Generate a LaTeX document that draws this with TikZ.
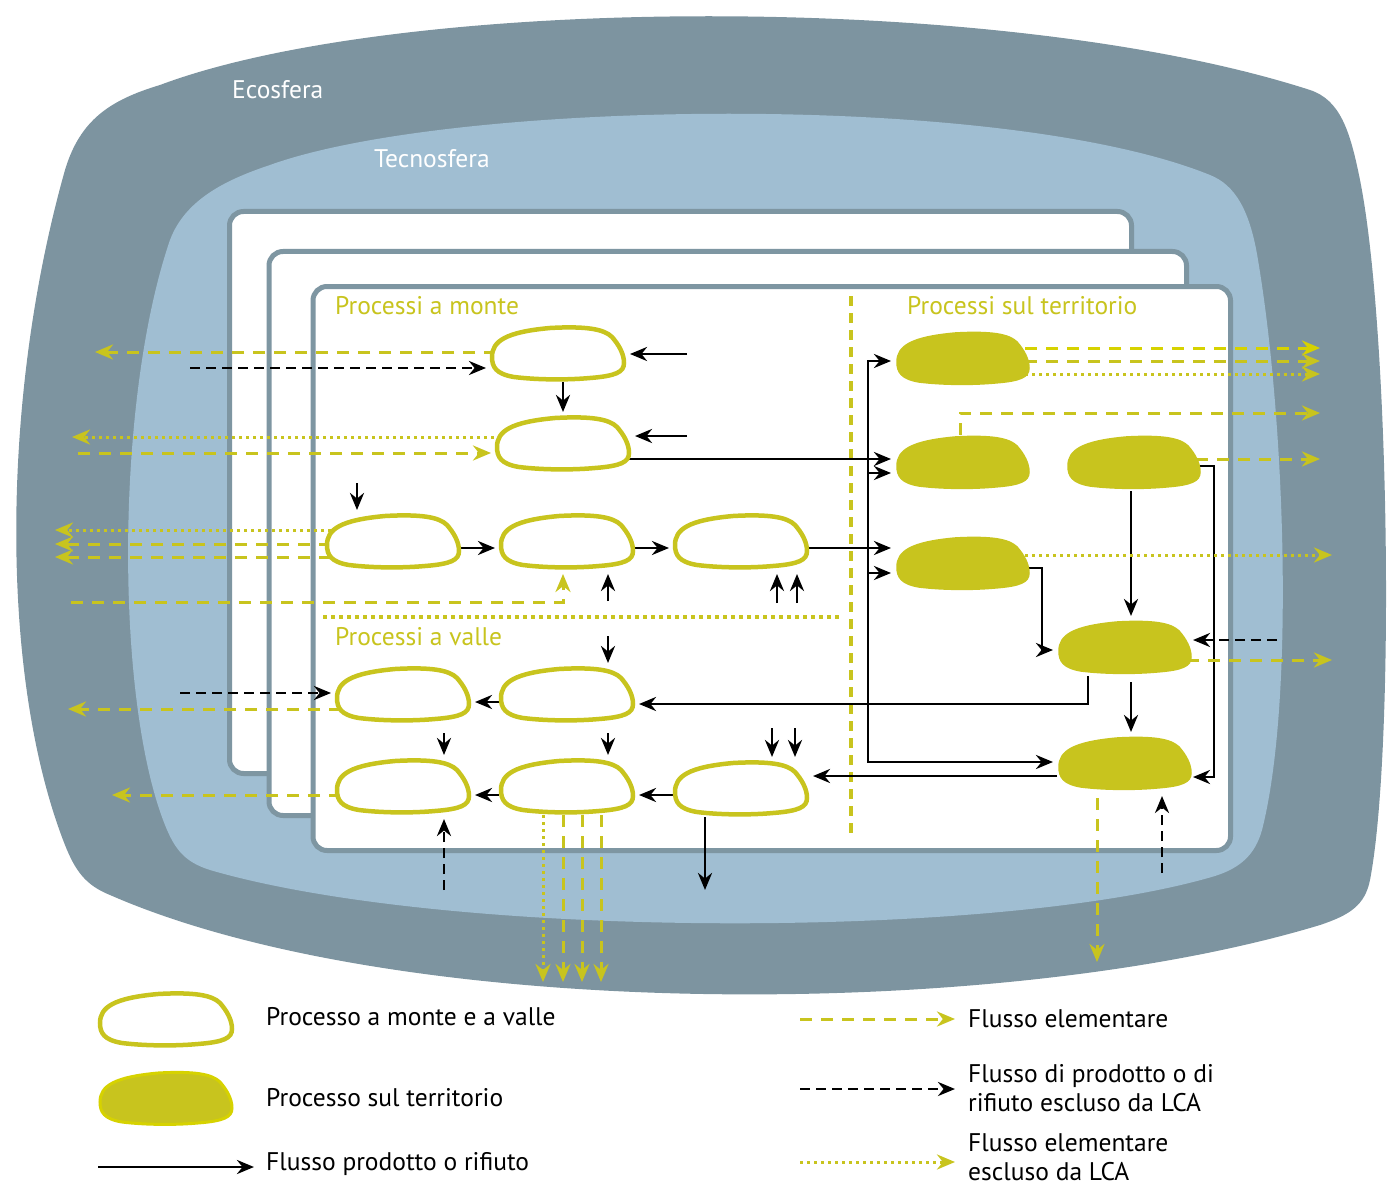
\documentclass[tikz,border=0pt]{standalone}
\usepackage{fontspec}
\setmainfont{PT Sans}
\usetikzlibrary{arrows.meta}

\definecolor{eco}{RGB}{125,148,160}
\definecolor{tecno}{RGB}{160,190,210}
\definecolor{framecol}{RGB}{126,150,162}
\definecolor{olive}{RGB}{200,196,30}
\definecolor{olivebright}{RGB}{214,210,0}

% outline of a process blob, centred on the origin (y grows downwards)
\newcommand\blobpath{(-66,3) .. controls (-66,-13) and (-52,-22) .. (-8,-26)
  .. controls (28,-28) and (46,-25) .. (54,-17)
  .. controls (61,-9) and (66,0) .. (66,9)
  .. controls (66,18) and (58,22) .. (32,24)
  .. controls (10,26) and (-20,26) .. (-44,23)
  .. controls (-62,20) and (-66,13) .. (-66,3) -- cycle}

\tikzset{
  proc/.style={minimum width=136pt,minimum height=56pt,inner sep=0pt,outer sep=0pt},
  openblob/.style={draw=olive,line width=4.5pt,fill=white},
  fullblob/.style={fill=olive,draw=olive,line width=1.5pt},
  prod/.style={draw=black,line width=2.8pt,-{Stealth[length=17pt,width=14pt]}},
  tipgap/.style={shorten >=4pt},
  fromshape/.style={shorten <=-6pt},
  excl/.style={prod,dash pattern=on 10pt off 6pt},
  elem/.style={draw=olive,line width=3pt,dash pattern=on 12pt off 9pt,-{Stealth[length=18pt,width=15pt]}},
  elemx/.style={elem,dash pattern=on 3pt off 4pt},
  framebox/.style={draw=framecol,fill=white,line width=5pt,rounded corners=14pt},
  lbl/.style={anchor=base west,inner sep=0pt,font=\fontsize{25.5}{29}\selectfont},
}

\begin{document}
\begin{tikzpicture}[x=1pt,y=-1pt]
\useasboundingbox (0,0) rectangle (1387,1185);

% ecosphere
\fill[eco] (160,85) .. controls (400,-5) and (1000,-10) .. (1310,90)
  .. controls (1340,100) and (1350,130) .. (1360,180)
  .. controls (1390,330) and (1395,750) .. (1370,880)
  .. controls (1365,905) and (1350,915) .. (1320,925)
  .. controls (1000,1022) and (400,1022) .. (110,895)
  .. controls (85,885) and (75,870) .. (65,845)
  .. controls (0,680) and (0,400) .. (65,170)
  .. controls (80,120) and (110,100) .. (160,85) -- cycle;
% technosphere
\fill[tecno] (270,165) .. controls (450,100) and (1000,90) .. (1210,175)
  .. controls (1235,185) and (1250,210) .. (1258,260)
  .. controls (1285,420) and (1295,700) .. (1262,830)
  .. controls (1255,855) and (1240,868) .. (1215,876)
  .. controls (1000,940) and (450,940) .. (210,870)
  .. controls (185,862) and (175,850) .. (165,825)
  .. controls (115,700) and (115,400) .. (170,240)
  .. controls (185,200) and (225,180) .. (270,165) -- cycle;

\node[lbl,text=white] (eco) at (232,99) {Ecosfera};
\node[lbl,text=white] (tec) at (374,168) {Tecnosfera};

% stacked system boxes
\draw[framebox] (229.5,211.5) rectangle (1131.5,773.5);
\draw[framebox] (269,251.5) rectangle (1186.5,815.5);
\draw[framebox] (313,286.5) rectangle (1230.5,850.5);

\node[lbl,text=olive] (hmonte) at (335,314) {Processi a monte};
\node[lbl,text=olive] (hterr) at (907,314) {Processi sul territorio};
\node[lbl,text=olive] (hvalle) at (335,645) {Processi a valle};

% separators
\coordinate (dv1) at (851,296); \coordinate (dv2) at (851,836);
\draw[olive,line width=3.5pt,dash pattern=on 10pt off 7pt] (dv1) -- (dv2);
\coordinate (dh1) at (323,617); \coordinate (dh2) at (843,617);
\draw[olive,line width=3.5pt,dash pattern=on 3.5pt off 4.5pt] (dh1) -- (dh2);

% process placeholders
\node[proc] (U1) at (558,354) {};
\node[proc] (U2) at (563,444) {};
\node[proc] (U3) at (393,542) {};
\node[proc] (U4) at (567,542) {};
\node[proc] (U5) at (741,542) {};
\node[proc] (D1) at (403,695) {};
\node[proc] (D2) at (567,695) {};
\node[proc] (D3) at (403,787) {};
\node[proc] (D4) at (567,787) {};
\node[proc] (D5) at (741,789) {};
\node[proc] (T1) at (963,359) {};
\node[proc] (T2) at (963,463) {};
\node[proc] (T3) at (1134,463) {};
\node[proc] (T4) at (963,564) {};
\node[proc] (T5) at (1125,648) {};
\node[proc] (T6) at (1125,764) {};

% free ends
\coordinate (fa1) at (687,354);
\coordinate (fa3) at (687,436);
\coordinate (fa9) at (357,483);
\coordinate (fa10) at (608,601);
\coordinate (fa11a) at (777,603);
\coordinate (fa11b) at (797,603);
\coordinate (fa12) at (608,636);
\coordinate (fa20a) at (772,728);
\coordinate (fa20b) at (795,728);
\coordinate (fa21) at (705,890);
\coordinate (fb1) at (190,368);
\coordinate (fb2) at (180,693);
\coordinate (fb3) at (1277,640);
\coordinate (fb4) at (444,890);
\coordinate (fb5) at (1162,873);
\coordinate (fy1) at (95,352);
\coordinate (fy2) at (78,453);
\coordinate (fy3) at (72,437);
\coordinate (fy4a) at (55,530);
\coordinate (fy4b) at (55,544);
\coordinate (fy4c) at (55,557);
\coordinate (fy5) at (71,602);
\coordinate (fy6) at (68,709);
\coordinate (fy7) at (112,795);
\coordinate (fy8a) at (543,982);
\coordinate (fy8b) at (563,982);
\coordinate (fy8c) at (582,982);
\coordinate (fy8d) at (601,982);
\coordinate (fy9a) at (1320,348);
\coordinate (fy9b) at (1320,361);
\coordinate (fy9c) at (1320,374);
\coordinate (fy10) at (1320,413);
\coordinate (fy11) at (1320,459);
\coordinate (fy12) at (1332,555);
\coordinate (fy13) at (1332,660);
\coordinate (fy14) at (1097,962);
\coordinate (j) at (868,548);

% product / waste flows
\draw[prod,tipgap] (fa1) -- (fa1 -| U1.east);
\draw[prod,tipgap] (U2.north |- U1.south) -- (U2.north);
\draw[prod,tipgap] (fa3) -- (fa3 -| U2.east);
\draw[prod,tipgap,fromshape] ([yshift=-15pt]U2.east) -- ([yshift=-15pt]U2.east -| T2.west);
\draw[prod,tipgap] (fa9) -- (fa9 |- U3.north);
\draw[prod,tipgap] ([yshift=-6pt]U3.east) -- ([yshift=-6pt]U3.east -| U4.west);
\draw[prod,tipgap] ([yshift=-6pt]U4.east) -- ([yshift=-6pt]U4.east -| U5.west);
\draw[prod,tipgap] ([yshift=-6pt]U5.east) -- ([yshift=-6pt]U5.east -| T4.west);
\draw[prod,tipgap] (fa10) -- (fa10 |- U4.south);
\draw[prod,tipgap] (fa11a) -- (fa11a |- U5.south);
\draw[prod,tipgap] (fa11b) -- (fa11b |- U5.south);
\draw[prod,tipgap] (j) |- ([yshift=-2pt]T1.west);
\draw[prod,tipgap] (j) |- ([yshift=-10pt]T2.west);
\draw[prod,tipgap] (j) |- ([yshift=-9pt]T4.west);
\draw[prod,tipgap] (j) |- ([yshift=2pt]T6.west);
\draw[prod,tipgap] (fa12) -- (fa12 |- D2.north);
\draw[prod,tipgap] ([yshift=-7pt]D2.west) -- ([yshift=-7pt]D2.west -| D1.east);
\draw[prod,tipgap] ([xshift=-37pt]T5.south) |- ([yshift=-9pt]D2.east);
\draw[prod,tipgap,shorten <=10pt] ([xshift=41pt]D1.south) -- ([xshift=41pt]D3.north);
\draw[prod,tipgap,shorten <=10pt] ([xshift=41pt]D2.south) -- ([xshift=41pt]D4.north);
\draw[prod,tipgap] ([yshift=-8pt]D4.west) -- ([yshift=-8pt]D4.west -| D3.east);
\draw[prod,tipgap] ([yshift=-6pt]D5.west) -- ([yshift=-6pt]D5.west -| D4.east);
\draw[prod,tipgap] ([yshift=-12pt]T6.west) -- ([yshift=-12pt]T6.west -| D5.east);
\draw[prod,tipgap] (fa20a) -- (fa20a |- D5.north);
\draw[prod,tipgap] (fa20b) -- (fa20b |- D5.north);
\draw[prod] (fa21 |- D5.south) -- (fa21);
\draw[prod,tipgap] ([xshift=-3pt]T3.south) -- ([xshift=-3pt]T3.south |- T5.north);
\draw[prod,tipgap,shorten <=6pt] ([xshift=6pt]T5.south) -- ([xshift=6pt]T5.south |- T6.north);
\draw[prod,fromshape] ([yshift=-3pt]T3.east) -| ([xshift=21pt,yshift=-13pt]T6.east) -- ([yshift=-13pt]T6.east);
\draw[prod,tipgap,fromshape] ([yshift=-4pt]T4.east) -| ([xshift=-15pt,yshift=-2pt]T5.west) -- ([yshift=-2pt]T5.west);

% excluded product / waste flows
\draw[excl,tipgap] (fb1) -- (fb1 -| U1.west);
\draw[excl,tipgap] (fb2) -- (fb2 -| D1.west);
\draw[excl] (fb3) -- (fb3 -| T5.east);
\draw[excl,tipgap] (fb4) -- (fb4 |- D3.south);
\draw[excl,tipgap] (fb5) -- (fb5 |- T6.south);

% elementary flows
\draw[elem,fromshape] (fy1 -| U1.west) -- (fy1);
\draw[elemx,fromshape] (fy3 -| U2.west) -- (fy3);
\draw[elem,tipgap] (fy2) -- (fy2 -| U2.west);
\draw[elemx,fromshape] (fy4a -| U3.west) -- (fy4a);
\draw[elem,fromshape] (fy4b -| U3.west) -- (fy4b);
\draw[elem,fromshape] (fy4c -| U3.west) -- (fy4c);
\draw[elem,tipgap] (fy5) -| ([xshift=-4pt]U4.south);
\draw[elem,fromshape] (fy6 -| D1.west) -- (fy6);
\draw[elem,fromshape] (fy7 -| D3.west) -- (fy7);
\draw[elemx] (fy8a |- D4.south) -- (fy8a);
\draw[elem] (fy8b |- D4.south) -- (fy8b);
\draw[elem] (fy8c |- D4.south) -- (fy8c);
\draw[elem] (fy8d |- D4.south) -- (fy8d);
\draw[elem,draw=olivebright,fromshape] (fy9a -| T1.east) -- (fy9a);
\draw[elem,fromshape] (fy9b -| T1.east) -- (fy9b);
\draw[elemx,fromshape] (fy9c -| T1.east) -- (fy9c);
\draw[elem] ([xshift=-3pt]T2.north) |- (fy10);
\draw[elem,fromshape] (fy11 -| T3.east) -- (fy11);
\draw[elemx,fromshape] (fy12 -| T4.east) -- (fy12);
\draw[elem,fromshape] (fy13 -| T5.east) -- (fy13);
\draw[elem,shorten <=6pt] (fy14 |- T6.south) -- (fy14);

% process shapes
\foreach \n in {U1,U2,U3,U4,U5,D1,D2,D3,D4,D5}
  \draw[openblob,shift={(\n.center)}] \blobpath;
\foreach \n in {T1,T2,T3,T4,T5,T6}
  \draw[fullblob,shift={(\n.center)}] \blobpath;

% legend
\node[proc] (L1) at (166,1020) {};
\node[proc] (L2) at (166,1099) {};
\draw[openblob,shift={(L1.center)}] \blobpath;
\draw[fill=olive,draw=olivebright,line width=3pt,shift={(L2.center)}] \blobpath;
\coordinate (k1a) at (98,1167); \coordinate (k1b) at (254,1167);
\coordinate (k2a) at (800,1019); \coordinate (k2b) at (955,1019);
\coordinate (k3a) at (800,1089); \coordinate (k3b) at (955,1089);
\coordinate (k4a) at (800,1162); \coordinate (k4b) at (955,1162);
\draw[prod] (k1a) -- (k1b);
\draw[elem] (k2a) -- (k2b);
\draw[excl] (k3a) -- (k3b);
\draw[elemx] (k4a) -- (k4b);

\node[lbl] (t1) at (266,1025) {Processo a monte e a valle};
\node[lbl] (t2) at (266,1106) {Processo sul territorio};
\node[lbl] (t3) at (266,1170) {Flusso prodotto o rifiuto};
\node[lbl] (t4) at (968,1027) {Flusso elementare};
% multi-line labels: the base anchor sits on the last line
\node[lbl,align=left] (t5) at (968,1111) {Flusso di prodotto o di\\rifiuto escluso da LCA};
\node[lbl,align=left] (t6) at (968,1180) {Flusso elementare\\escluso da LCA};
\end{tikzpicture}
\end{document}
